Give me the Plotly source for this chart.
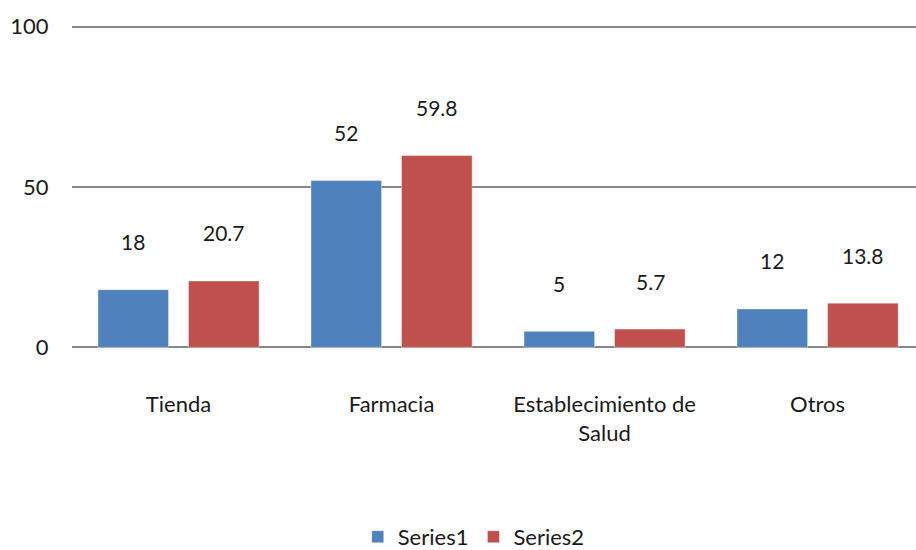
import plotly.graph_objects as go

categories = ["Tienda", "Farmacia", "Establecimiento de<br>Salud", "Otros"]
series1 = [18, 52, 5, 12]
series2 = [20.7, 59.8, 5.7, 13.8]
series_names = ["Series1", "Series2"]
colors = ["#4F81BD", "#C0504D"]

FONT = "Lato"
fig = go.Figure()
for name, vals, col in zip(series_names, [series1, series2], colors):
    fig.add_trace(go.Bar(
        x=categories, y=vals, name=name,
        marker=dict(color=col, line=dict(color="rgba(255,255,255,0.4)", width=1)),
    ))

annotations = []
for vals, shift in [(series1, -45.5), (series2, 45.5)]:
    for c, v in zip(categories, vals):
        annotations.append(dict(
            x=c, y=v, xref="x", yref="y", text=f"{v:g}", showarrow=False,
            xshift=shift, yshift=48, font=dict(size=21, color="#1a1a1a", family=FONT),
        ))

fig.update_layout(
    width=916, height=550,
    margin=dict(l=72, r=0, t=25, b=201, autoexpand=False),
    paper_bgcolor="white", plot_bgcolor="white",
    barmode="group", bargap=0.15, bargroupgap=0.22,
    font=dict(family=FONT, size=22, color="#1a1a1a"),
    annotations=annotations,
    showlegend=True,
    legend=dict(orientation="h", x=0.476, xanchor="center", y=-0.58, yanchor="middle",
                font=dict(size=22), itemwidth=30, traceorder="normal"),
    xaxis=dict(range=[-0.5, 3.462], showgrid=False, zeroline=False, showline=False,
               ticks="outside", ticklen=36, tickcolor="rgba(0,0,0,0)",
               tickfont=dict(size=22), automargin=False),
    yaxis=dict(range=[-0.5, 100.5], tickvals=[0, 50, 100], showgrid=True,
               gridcolor="#868686", gridwidth=1.6, zeroline=False, showline=False,
               ticks="outside", ticklen=18, tickcolor="rgba(0,0,0,0)",
               tickfont=dict(size=22), automargin=False),
)

fig.write_html(
    "out.html",
    config={"displayModeBar": False},
    post_script="document.body.style.margin='0';document.body.style.overflow='hidden';",
)
